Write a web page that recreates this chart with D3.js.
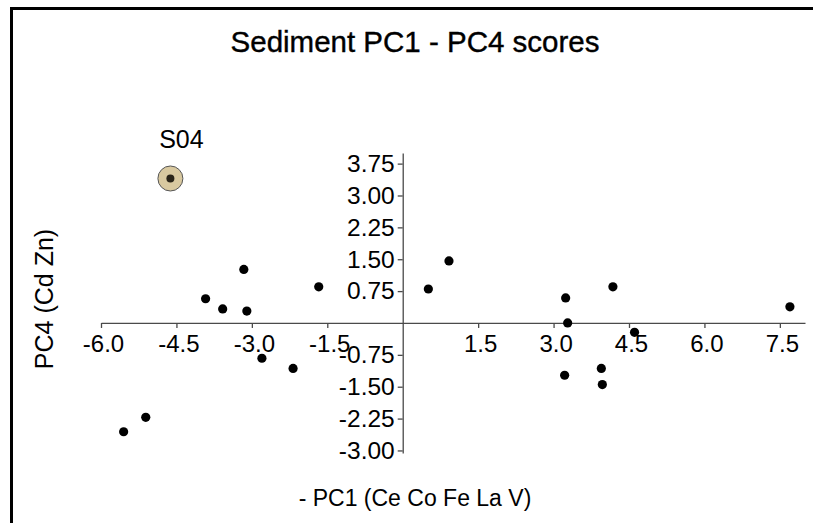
<!DOCTYPE html>
<html><head><meta charset="utf-8">
<script src="https://cdn.jsdelivr.net/npm/d3@7"></script>
<style>body{margin:0;background:#fff}svg{display:block}text{font-family:"Liberation Sans",Arial,sans-serif;fill:#000}</style>
</head><body>
<script>
const sampleIds = ["S04","p02","p03","p04","p05","p06","p07","p08","p09","p10","p11","p12","p13","p14","p15","p16","p17","p18","p19","p20"];
const pc1 = [-4.62,-3.16,-3.92,-3.58,-3.10,-1.67,-2.80,-2.18,-5.11,-5.55,0.51,0.92,3.24,3.28,4.18,7.70,4.61,3.95,3.97,3.22];
const pc4 = [3.40,1.26,0.57,0.33,0.28,0.85,-0.83,-1.07,-2.22,-2.56,0.80,1.46,0.59,0.00,0.85,0.38,-0.22,-1.07,-1.45,-1.23];
const highlighted = ["S04"];
const xTicks = [-6.0,-4.5,-3.0,-1.5,1.5,3.0,4.5,6.0,7.5];
const yTicks = [3.75,3.00,2.25,1.50,0.75,-0.75,-1.50,-2.25,-3.00];

const W = 813, H = 523;
const svg = d3.select("body").append("svg").attr("width", W).attr("height", H);

// frame lines (top and left)
svg.append("line").attr("x1",11.5).attr("x2",W).attr("y1",8.5).attr("y2",8.5).attr("stroke","#000").attr("stroke-width",3);
svg.append("line").attr("x1",11.5).attr("x2",11.5).attr("y1",7).attr("y2",H).attr("stroke","#000").attr("stroke-width",3);

const x = d3.scaleLinear().domain([-6, 8]).range([101, 805]);
const y = d3.scaleLinear().domain([-3.06, 4.0]).range([453, 153]);

const hy = f => d => f(d).replace("\u2212","-");
const axisColor = "#4a4a4a";
// x axis at y=0
const gx = svg.append("g").attr("transform", `translate(0,${y(0)})`)
  .call(d3.axisBottom(x).tickValues(xTicks).tickFormat(hy(d3.format(".1f"))).tickSize(5).tickSizeOuter(0));
gx.select(".domain").attr("stroke", axisColor).attr("stroke-width",1.3);
gx.selectAll(".tick line").attr("stroke", axisColor).attr("stroke-width",1.3);
gx.selectAll(".tick text").attr("font-size", 24).attr("y", 12).attr("dy", "0.71em").attr("dx","2").style("font-family","Liberation Sans, Arial, sans-serif").attr("fill","#000");

// y axis at x=0
const gy = svg.append("g").attr("transform", `translate(${x(0)},0)`)
  .call(d3.axisLeft(y).tickValues(yTicks).tickFormat(hy(d3.format(".2f"))).tickSize(5).tickSizeOuter(0));
gy.select(".domain").attr("stroke", axisColor).attr("stroke-width",1.3);
gy.selectAll(".tick line").attr("stroke", axisColor).attr("stroke-width",1.3);
gy.selectAll(".tick text").attr("font-size", 24.5).attr("x", -8).style("font-family","Liberation Sans, Arial, sans-serif").attr("fill","#000");

// title
svg.append("text").attr("x", 415).attr("y", 52).attr("text-anchor","middle").attr("font-size", 29.5)
  .attr("stroke","#000").attr("stroke-width",0.4).text("Sediment PC1 - PC4 scores");
// axis titles
svg.append("text").attr("x", 415).attr("y", 506).attr("text-anchor","middle").attr("font-size", 23).text("- PC1 (Ce Co Fe La V)");
svg.append("text").attr("transform","translate(53,299) rotate(-90)").attr("text-anchor","middle").attr("font-size", 25).text("PC4 (Cd Zn)");

const data = sampleIds.map((id,i)=>({id, x:pc1[i], y:pc4[i]}));
// highlight circle
data.filter(d=>highlighted.includes(d.id)).forEach(d=>{
  svg.append("circle").attr("cx", x(d.x)).attr("cy", y(d.y)).attr("r", 12.5).attr("fill","#d9c9a0").attr("stroke","#555").attr("stroke-width",1);
  svg.append("text").attr("x", x(d.x)+11).attr("y", y(d.y)-30).attr("text-anchor","middle").attr("font-size", 25).text(d.id);
});
svg.selectAll("circle.pt").data(data).enter().append("circle").attr("class","pt")
  .attr("cx", d=>x(d.x)).attr("cy", d=>y(d.y)).attr("r", d=>highlighted.includes(d.id)?4:4.6)
  .attr("fill", d=>highlighted.includes(d.id)?"#2a2418":"#000");
</script>
</body></html>
